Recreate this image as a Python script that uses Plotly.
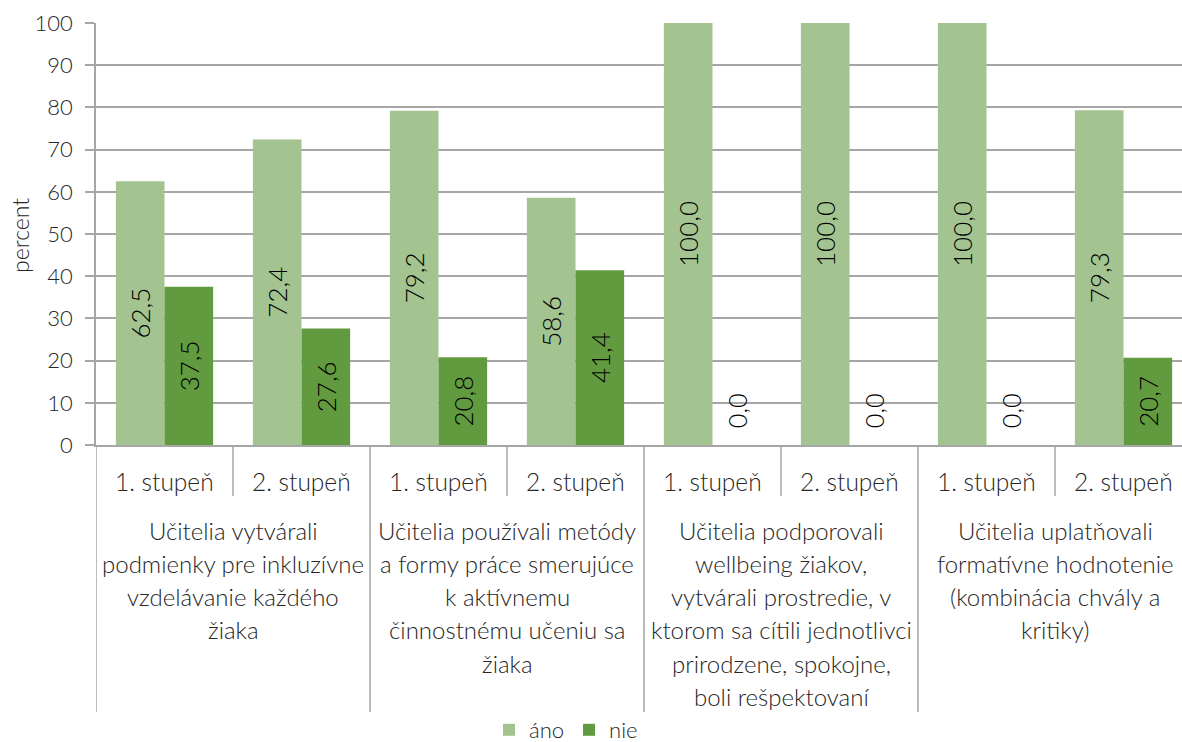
import plotly.graph_objects as go

groups = [
    ["Učitelia vytvárali", "podmienky pre inkluzívne", "vzdelávanie každého", "žiaka"],
    ["Učitelia používali metódy", "a formy práce smerujúce", "k aktívnemu", "činnostnému učeniu sa", "žiaka"],
    ["Učitelia podporovali", "wellbeing žiakov,", "vytvárali prostredie, v", "ktorom sa cítili jednotlivci", "prirodzene, spokojne,", "boli rešpektovaní"],
    ["Učitelia uplatňovali", "formatívne hodnotenie", "(kombinácia chvály a", "kritiky)"],
]
levels = ["1. stupeň", "2. stupeň"]
ano = [62.5, 72.4, 79.2, 58.6, 100.0, 100.0, 100.0, 79.3]
nie = [37.5, 27.6, 20.8, 41.4, 0.0, 0.0, 0.0, 20.7]
y_ticks = [0, 10, 20, 30, 40, 50, 60, 70, 80, 90, 100]

C_ANO = "#A3C490"
C_NIE = "#629B3F"
GRID = "#A6A6A6"
FONT = "Lato"
TXT = "#262626"
WGT = 300

W, H = 1182, 742
L, R, T, B = 96, 0, 23, 297
plot_h = H - T - B
plot_w = W - L - R
cat_px = 137.0
n = len(ano)
xr = [-0.5, -0.5 + plot_w / cat_px]

xs = list(range(n))


def fmt(v):
    s = f"{v:.1f}".replace(".", ",")
    return s if v > 0 else "\u00a0\u00a0" + s


def positions(vals):
    return ["inside" if v > 0 else "outside" for v in vals]


def fnt(size):
    return dict(family=FONT, size=size, color=TXT, weight=WGT)


fig = go.Figure()
for name, vals, col in [("áno", ano, C_ANO), ("nie", nie, C_NIE)]:
    fig.add_trace(go.Bar(
        x=xs, y=vals, name=name, marker=dict(color=col, line=dict(width=0)),
        text=[fmt(v) for v in vals], textposition=positions(vals),
        textangle=-90, insidetextanchor="middle",
        textfont=dict(family=FONT, size=26, color="#000000", weight=WGT),
        cliponaxis=False,
    ))


def py(px):
    return (H - B - px) / plot_h


shapes = []
for i in range(n + 1):
    xb = -0.5 + i
    major = (i % 2 == 0)
    y1 = py(712) if major else py(496)
    shapes.append(dict(type="line", xref="x", yref="paper", x0=xb, x1=xb, y0=0, y1=y1,
                       line=dict(color=GRID, width=1.5)))

annotations = []
for i in range(n):
    annotations.append(dict(x=i, y=py(481), xref="x", yref="paper", text=levels[i % 2],
                            showarrow=False, font=fnt(24.5),
                            xanchor="center", yanchor="middle"))
for g, lines in enumerate(groups):
    for j, line in enumerate(lines):
        annotations.append(dict(x=2 * g + 0.5, y=py(530 + 33.3 * j), xref="x", yref="paper",
                                text=line, showarrow=False, font=fnt(24),
                                xanchor="center", yanchor="middle"))
annotations.append(dict(x=(20 - L) / plot_w, y=py(236), xref="paper", yref="paper", text="percent",
                        textangle=-90, showarrow=False, font=fnt(23),
                        xanchor="center", yanchor="middle"))

fig.update_layout(
    width=W, height=H,
    margin=dict(l=L, r=R, t=T, b=B, pad=0, autoexpand=False),
    paper_bgcolor="white", plot_bgcolor="white",
    barmode="group", bargap=0.29, bargroupgap=0,
    font=fnt(22),
    showlegend=True,
    legend=dict(orientation="h", x=(566 - L) / plot_w, y=py(730), xanchor="center", yanchor="middle",
                font=fnt(22), itemwidth=30, tracegroupgap=0,
                bgcolor="rgba(0,0,0,0)"),
    xaxis=dict(range=xr, showticklabels=False, showgrid=False, zeroline=False,
               showline=True, linecolor=GRID, linewidth=1.5, ticks="", automargin=False),
    yaxis=dict(range=[0, 100], tickvals=y_ticks, showgrid=True, gridcolor=GRID, gridwidth=1.5,
               zeroline=False, showline=True, linecolor=GRID, linewidth=1.5,
               ticks="outside", ticklen=9, tickcolor=GRID, tickwidth=1.5, automargin=False,
               ticklabelstandoff=8, tickfont=fnt(22)),
    shapes=shapes, annotations=annotations,
)

fig.write_html("out.html", config={"displayModeBar": False},
               post_script="document.body.style.margin='0';document.body.style.overflow='hidden';")
